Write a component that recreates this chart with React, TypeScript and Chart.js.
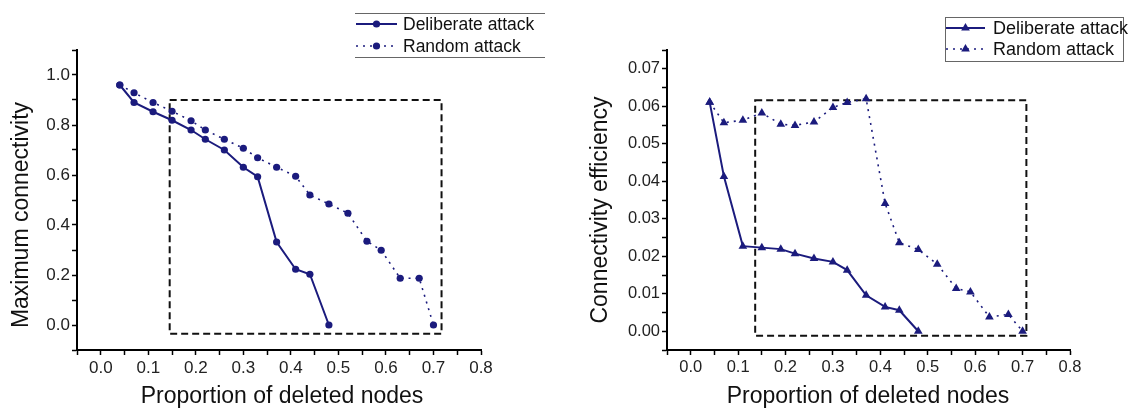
import React, { useEffect, useRef } from "react";
import { Chart, registerables } from "chart.js";

Chart.register(...registerables);

// ---------- data ----------
const xDeliberate = [0.04, 0.07, 0.11, 0.15, 0.19, 0.22, 0.26, 0.3, 0.33, 0.37, 0.41, 0.44, 0.48];
const xRandom = [0.04, 0.07, 0.11, 0.15, 0.19, 0.22, 0.26, 0.3, 0.33, 0.37, 0.41, 0.44, 0.48, 0.52, 0.56, 0.59, 0.63, 0.67, 0.7];

const connDeliberate = [0.96, 0.89, 0.853, 0.819, 0.78, 0.743, 0.7, 0.631, 0.593, 0.332, 0.223, 0.203, 0];
const connRandom = [0.96, 0.929, 0.89, 0.855, 0.817, 0.78, 0.743, 0.707, 0.669, 0.631, 0.595, 0.52, 0.484, 0.447, 0.335, 0.299, 0.187, 0.187, 0];

const effDeliberate = [0.0611, 0.0413, 0.0227, 0.0223, 0.0219, 0.0207, 0.0194, 0.0185, 0.0163, 0.0096, 0.0065, 0.0056, 0];
const effRandom = [0.0611, 0.0556, 0.0563, 0.0582, 0.0552, 0.0549, 0.0558, 0.0597, 0.061, 0.062, 0.0341, 0.0236, 0.0218, 0.0179, 0.0114, 0.0105, 0.0038, 0.0045, 0];

const seriesNames = ["Deliberate attack", "Random attack"];
const xTitle = "Proportion of deleted nodes";
const yTitleLeft = "Maximum connectivity";
const yTitleRight = "Connectivity efficiency";

// highlighted region (data units): [xMin, xMax, yMin, yMax]
const boxLeft = [0.145, 0.717, -0.035, 0.9];
const boxRight = [0.136, 0.708, -0.0012, 0.0616];

const NAVY = "#1b1b7d";
const FONT = "'Liberation Sans', Arial, sans-serif";

type Cfg = {
  width: number;
  plotLeft: number;
  plotRight: number;
  yMin: number;
  yMax: number;
  yStep: number;
  yDecimals: number;
  yMajorEvery: number; // in units of step
  deliberate: number[];
  random: number[];
  pointStyle: string;
  pointRadius: number;
  box: number[];
  yTitle: string;
  yTitlePos: [number, number];
  yTitleSize: number;
  xTitlePos: [number, number];
  xTitleSize: number;
  tickSize: number;
  legend: {
    full: boolean;
    x0: number;
    x1: number;
    y0: number;
    y1: number;
    rows: number[];
    sx0: number;
    sx1: number;
    tx: number;
    size: number;
  };
};

function drawMarker(ctx: CanvasRenderingContext2D, style: string, x: number, y: number, r: number) {
  ctx.beginPath();
  if (style === "triangle") {
    let a = 0;
    const T = (2 * Math.PI) / 3;
    ctx.moveTo(x + Math.sin(a) * r, y - Math.cos(a) * r);
    a += T;
    ctx.lineTo(x + Math.sin(a) * r, y - Math.cos(a) * r);
    a += T;
    ctx.lineTo(x + Math.sin(a) * r, y - Math.cos(a) * r);
    ctx.closePath();
  } else {
    ctx.arc(x, y, r, 0, Math.PI * 2);
  }
  ctx.fillStyle = NAVY;
  ctx.fill();
}

function buildChart(canvas: HTMLCanvasElement, c: Cfg) {
  const xs = (arr: number[], ys: number[]) => arr.map((x, i) => ({ x, y: ys[i] }));
  const dashes = [[], [2, 5]];
  const widths = [2, 1.6];

  const plugin = {
    id: "decor",
    beforeDatasetsDraw(chart: any) {
      const ctx = chart.ctx as CanvasRenderingContext2D;
      const xS = chart.scales.x;
      const yS = chart.scales.y;
      const [bx0, bx1, by0, by1] = c.box;
      const l = xS.getPixelForValue(bx0);
      const r = xS.getPixelForValue(bx1);
      const t = yS.getPixelForValue(by1);
      const b = yS.getPixelForValue(by0);
      ctx.save();
      ctx.strokeStyle = "#111";
      ctx.lineWidth = 2;
      ctx.setLineDash([7, 4]);
      ctx.strokeRect(l, t, r - l, b - t);
      ctx.restore();
    },
    afterDraw(chart: any) {
      const ctx = chart.ctx as CanvasRenderingContext2D;
      ctx.save();
      // axis titles
      ctx.fillStyle = "#111";
      ctx.textAlign = "center";
      ctx.textBaseline = "middle";
      ctx.font = `${c.xTitleSize}px ${FONT}`;
      ctx.fillText(xTitle, c.xTitlePos[0], c.xTitlePos[1]);
      ctx.save();
      ctx.translate(c.yTitlePos[0], c.yTitlePos[1]);
      ctx.rotate(-Math.PI / 2);
      ctx.font = `${c.yTitleSize}px ${FONT}`;
      ctx.fillText(c.yTitle, 0, 0);
      ctx.restore();

      // legend
      const L = c.legend;
      ctx.strokeStyle = "#666";
      ctx.lineWidth = 1;
      ctx.setLineDash([]);
      if (L.full) {
        ctx.strokeRect(L.x0 + 0.5, L.y0 + 0.5, L.x1 - L.x0, L.y1 - L.y0);
      } else {
        ctx.beginPath();
        ctx.moveTo(L.x0, L.y0 + 0.5);
        ctx.lineTo(L.x1, L.y0 + 0.5);
        ctx.moveTo(L.x0, L.y1 + 0.5);
        ctx.lineTo(L.x1, L.y1 + 0.5);
        ctx.stroke();
      }
      chart.data.datasets.forEach((ds: any, i: number) => {
        const cy = L.rows[i];
        ctx.strokeStyle = NAVY;
        ctx.lineWidth = widths[i];
        ctx.setLineDash(dashes[i]);
        ctx.beginPath();
        ctx.moveTo(L.sx0, cy);
        ctx.lineTo(L.sx1, cy);
        ctx.stroke();
        ctx.setLineDash([]);
        drawMarker(ctx, c.pointStyle, (L.sx0 + L.sx1) / 2, cy, c.pointRadius);
        ctx.fillStyle = "#111";
        ctx.textAlign = "left";
        ctx.textBaseline = "middle";
        ctx.font = `${L.size}px ${FONT}`;
        ctx.fillText(ds.label, L.tx, cy + 1);
      });
      ctx.restore();
    },
  };

  const tickFont = { family: FONT, size: c.tickSize };

  return new Chart(canvas, {
    type: "scatter",
    data: {
      datasets: [
        {
          label: seriesNames[0],
          data: xs(c.deliberate === connDeliberate || c.deliberate === effDeliberate ? xDeliberate : xDeliberate, c.deliberate),
          showLine: true,
          borderColor: NAVY,
          backgroundColor: NAVY,
          borderWidth: widths[0],
          pointStyle: c.pointStyle as any,
          pointRadius: c.pointRadius,
          pointBorderWidth: 0,
          pointBackgroundColor: NAVY,
          tension: 0,
        },
        {
          label: seriesNames[1],
          data: xs(xRandom, c.random),
          showLine: true,
          borderColor: NAVY,
          backgroundColor: NAVY,
          borderWidth: widths[1],
          borderDash: dashes[1],
          pointStyle: c.pointStyle as any,
          pointRadius: c.pointRadius,
          pointBorderWidth: 0,
          pointBackgroundColor: NAVY,
          tension: 0,
        },
      ],
    },
    options: {
      animation: false,
      responsive: false,
      devicePixelRatio: 1,
      events: [],
      layout: { padding: { top: 50, right: c.width - c.plotRight, left: 0, bottom: 0 } },
      plugins: { legend: { display: false }, tooltip: { enabled: false } },
      scales: {
        x: {
          type: "linear",
          min: -0.05,
          max: 0.8,
          afterFit: (s: any) => {
            s.height = 60;
          },
          border: { display: true, color: "#000", width: 2 },
          grid: { drawOnChartArea: false, drawTicks: true, tickLength: 5, tickColor: "#000", tickWidth: 1.5 },
          ticks: {
            stepSize: 0.05,
            autoSkip: false,
            maxRotation: 0,
            padding: 3,
            color: "#222",
            font: tickFont,
            callback: (v: any) => {
              const r = Math.round(Number(v) * 100);
              return r >= 0 && r % 10 === 0 ? (r / 100).toFixed(1) : "";
            },
          },
        },
        y: {
          type: "linear",
          min: c.yMin,
          max: c.yMax,
          afterFit: (s: any) => {
            s.width = c.plotLeft;
          },
          border: { display: true, color: "#000", width: 2 },
          grid: { drawOnChartArea: false, drawTicks: true, tickLength: 5, tickColor: "#000", tickWidth: 1.5 },
          ticks: {
            stepSize: c.yStep,
            autoSkip: false,
            padding: 2,
            color: "#222",
            font: tickFont,
            callback: (v: any) => {
              const r = Math.round(Number(v) / c.yStep);
              return r >= 0 && r % c.yMajorEvery === 0 ? (r * c.yStep).toFixed(c.yDecimals) : "";
            },
          },
        },
      },
    },
    plugins: [plugin],
  } as any);
}

const leftCfg: Cfg = {
  width: 565,
  plotLeft: 77,
  plotRight: 481,
  yMin: -0.1,
  yMax: 1.1,
  yStep: 0.1,
  yDecimals: 1,
  yMajorEvery: 2,
  deliberate: connDeliberate,
  random: connRandom,
  pointStyle: "circle",
  pointRadius: 3.6,
  box: boxLeft,
  yTitle: yTitleLeft,
  yTitlePos: [22, 215],
  yTitleSize: 23,
  xTitlePos: [282, 397],
  xTitleSize: 23,
  tickSize: 17,
  legend: { full: false, x0: 355, x1: 545, y0: 13, y1: 57, rows: [24, 46], sx0: 356, sx1: 397, tx: 403, size: 17.5 },
};

const rightCfg: Cfg = {
  width: 566,
  plotLeft: 102,
  plotRight: 505,
  yMin: -0.005,
  yMax: 0.075,
  yStep: 0.005,
  yDecimals: 2,
  yMajorEvery: 2,
  deliberate: effDeliberate,
  random: effRandom,
  pointStyle: "triangle",
  pointRadius: 5,
  box: boxRight,
  yTitle: yTitleRight,
  yTitlePos: [36, 210],
  yTitleSize: 23,
  xTitlePos: [303, 397],
  xTitleSize: 23,
  tickSize: 16.5,
  legend: { full: true, x0: 380, x1: 558, y0: 17, y1: 61, rows: [28, 49], sx0: 381, sx1: 420, tx: 428, size: 18 },
};

function ChartCanvas({ cfg, left }: { cfg: Cfg; left: number }) {
  const ref = useRef<HTMLCanvasElement | null>(null);
  useEffect(() => {
    if (!ref.current) return;
    const ch = buildChart(ref.current, cfg);
    return () => ch.destroy();
  }, [cfg]);
  return (
    <div style={{ position: "absolute", left, top: 0, width: cfg.width, height: 410 }}>
      <canvas ref={ref} width={cfg.width} height={410} style={{ width: cfg.width, height: 410, display: "block" }} />
    </div>
  );
}

export default function App() {
  return (
    <div style={{ position: "fixed", left: 0, top: 0, width: 1131, height: 410, background: "#fff", overflow: "hidden" }}>
      <ChartCanvas cfg={leftCfg} left={0} />
      <ChartCanvas cfg={rightCfg} left={565} />
    </div>
  );
}
